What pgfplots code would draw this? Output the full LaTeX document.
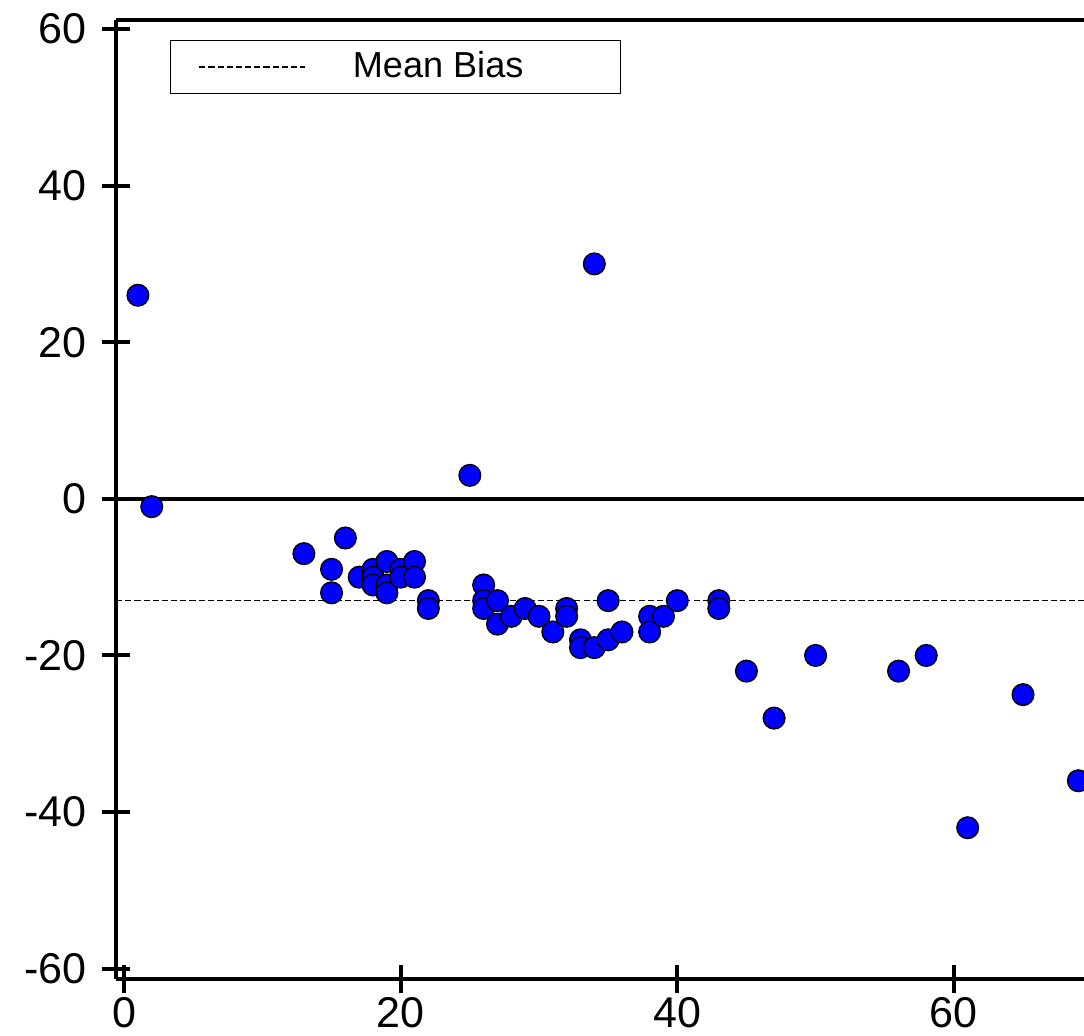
\documentclass[border=0pt]{standalone}
\usepackage{fontspec}
\setmainfont{Liberation Sans}
\usepackage{pgfplots}
\pgfplotsset{compat=1.18}

\begin{document}
\begin{tikzpicture}
\begin{axis}[
  name=ax,
  scale only axis,
  width=348.5pt, height=345.2pt,
  xmin=-0.58, xmax=69.41,
  ymin=-61.28, ymax=61.15,
  axis x line=box, axis y line=left,
  axis line style={line width=1.45pt, -},
  x axis line style={-}, y axis line style={-},
  xtick={0,20,40,60},
  ytick={-60,-40,...,60},
  xtick pos=left, ytick pos=left,
  tick align=center,
  major tick length=10pt,
  tick style={line width=1.45pt, black},
  /pgf/number format/assume math mode=true,
  tick label style={font=\fontsize{15.5}{17}\selectfont},
  yticklabel style={xshift=-2pt},
  xticklabel style={yshift=1.8pt},
  legend style={
    at={(axis description cs:0,1)}, anchor=north west,
    xshift=19.4pt, yshift=-7.2pt,
    draw=black, line width=0.5pt,
    font=\fontsize{13}{15}\selectfont,
    inner xsep=10pt, inner ysep=2pt,
  },
  legend image code/.code={\draw[#1] (0pt,0pt) -- (38pt,0pt);},
]
% zero line
\addplot[black, line width=1.3pt, forget plot] coordinates {(-0.58,0) (69.41,0)};
% mean bias
\addplot[black, line width=0.6pt, dash pattern=on 2.2pt off 1.1pt] coordinates {(-0.58,-13) (69.41,-13)};
\addlegendentry{\hspace*{15pt}Mean Bias\hspace*{23pt}}
% differences
\addplot[only marks, mark=*, mark size=3.9pt,
  mark options={fill=blue, draw=black, line width=0.5pt}, forget plot] coordinates {
  (1,26) (2,-1) (34,30) (25,3)
  (13,-7) (16,-5) (15,-9) (15,-12) (17,-10) (18,-9) (18,-10) (18,-11)
  (19,-8) (19,-11) (19,-12) (20,-9) (20,-10) (21,-8) (21,-10) (22,-13) (22,-14)
  (26,-11) (26,-13) (26,-14) (27,-13) (27,-16) (28,-15) (29,-14) (30,-15)
  (31,-17) (32,-14) (32,-15) (33,-18) (33,-19) (34,-19) (35,-18) (36,-17)
  (35,-13) (38,-15) (38,-17) (39,-15) (40,-13) (43,-13) (43,-14)
  (45,-22) (47,-28) (50,-20) (56,-22) (58,-20) (61,-42) (65,-25) (69,-36)
};
\end{axis}
\pgfresetboundingbox
\path ([xshift=-41.8pt, yshift=-20.5pt]ax.south west) rectangle ([yshift=7.2pt]ax.north east);
\end{tikzpicture}
\end{document}
